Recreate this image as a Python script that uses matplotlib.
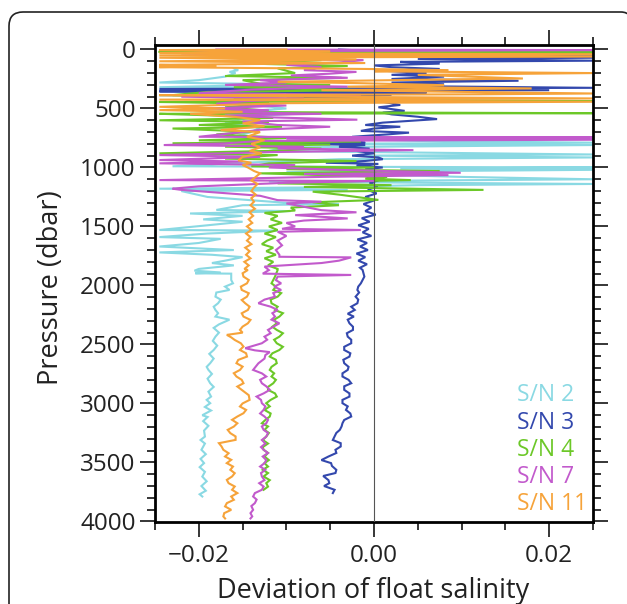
import matplotlib
matplotlib.use("Agg")
import matplotlib.pyplot as plt
from matplotlib.ticker import MultipleLocator
from matplotlib.patches import PathPatch
from matplotlib.path import Path

plt.rcParams['font.family'] = ['Open Sans', 'DejaVu Sans']

# ---------------- data (pressure in dbar, deviation of float salinity) ----------------
labels = ["S/N 2", "S/N 3", "S/N 4", "S/N 7", "S/N 11"]
colors = ["#8ad9e3", "#3348ad", "#6cc828", "#c25acc", "#f6a33a"]

p_sn2 = [160, 175, 190, 200, 230, 260, 280, 290, 300, 320, 335, 345, 360, 390, 400, 430, 460, 500,
         520, 540, 560, 590, 620, 660, 700, 740, 775, 790, 800, 810, 830, 860, 890, 900, 915, 930,
         960, 990, 1000, 1010, 1020, 1040, 1080, 1100, 1120, 1140, 1150, 1170, 1180, 1190, 1200,
         1250, 1300, 1310, 1320, 1360, 1370, 1390, 1410, 1440, 1460, 1490, 1530, 1535, 1560, 1590,
         1605, 1640, 1670, 1700, 1720, 1740, 1760, 1790, 1810, 1830, 1860, 1875, 1890, 1897, 1900,
         1954, 1982, 2010, 2038, 2060, 2095, 2120, 2151, 2180, 2208, 2235, 2264, 2290, 2330, 2360,
         2400, 2434, 2470, 2510, 2547, 2580, 2620, 2659, 2690, 2716, 2750, 2790, 2829, 2860, 2900,
         2942, 2970, 2998, 3030, 3060, 3100, 3115, 3150, 3190, 3230, 3281, 3310, 3340, 3393, 3430,
         3470, 3506, 3540, 3580, 3620, 3660, 3700, 3740, 3770, 3789]
d_sn2 = [-0.0160, -0.0155, -0.0165, -0.0158, -0.0170, -0.0200, -0.0245, -0.0150, -0.0120, -0.0245,
         -0.0030, -0.0245, -0.0080, -0.0245, -0.0100, -0.0190, -0.0150, -0.0100, -0.0140, -0.0080,
         -0.0125, -0.0150, -0.0170, -0.0130, -0.0140, -0.0160, 0.0050, 0.0250, -0.0090, 0.0250,
         -0.0100, -0.0120, 0.0250, -0.0010, 0.0250, -0.0040, -0.0150, -0.0230, 0.0250, 0.0030,
         0.0250, -0.0100, 0.0100, 0.0250, -0.0120, 0.0250, 0.0050, -0.0080, -0.0245, -0.0030,
         -0.0220, -0.0190, -0.0100, -0.0040, -0.0150, -0.0180, -0.0095, -0.0210, -0.0150, -0.0195,
         -0.0150, -0.0190, -0.0245, -0.0110, -0.0190, -0.0245, -0.0175, -0.0200, -0.0245, -0.0160,
         -0.0245, -0.0185, -0.0150, -0.0170, -0.0185, -0.0160, -0.0200, -0.0205, -0.0175, -0.0204,
         -0.0163, -0.0163, -0.0161, -0.0170, -0.0165, -0.0180, -0.0181, -0.0175, -0.0178, -0.0183,
         -0.0181, -0.0178, -0.0181, -0.0165, -0.0177, -0.0183, -0.0177, -0.0181, -0.0184, -0.0179,
         -0.0183, -0.0188, -0.0183, -0.0187, -0.0191, -0.0189, -0.0185, -0.0190, -0.0187, -0.0183,
         -0.0189, -0.0186, -0.0191, -0.0187, -0.0193, -0.0186, -0.0196, -0.0190, -0.0195, -0.0189,
         -0.0194, -0.0193, -0.0198, -0.0193, -0.0197, -0.0192, -0.0198, -0.0194, -0.0199, -0.0193,
         -0.0196, -0.0191, -0.0197, -0.0192, -0.0199, -0.0196]

p_sn3 = [0, 10, 20, 30, 45, 55, 70, 80, 95, 105, 120, 135, 150, 165, 180, 200, 215, 230, 250, 265,
         280, 295, 310, 325, 335, 345, 355, 365, 375, 385, 400, 415, 430, 450, 470, 490, 505, 520,
         535, 550, 570, 590, 605, 620, 640, 655, 670, 690, 705, 720, 740, 760, 775, 790, 800, 810,
         825, 840, 860, 880, 900, 915, 930, 945, 960, 970, 985, 1000, 1015, 1035, 1050, 1070, 1090,
         1110, 1130, 1160, 1190, 1220, 1250, 1280, 1310, 1340, 1370, 1400, 1430, 1460, 1490, 1520,
         1550, 1580, 1610, 1640, 1670, 1700, 1730, 1760, 1790, 1820, 1850, 1869, 1925, 1982, 2010,
         2038, 2060, 2095, 2120, 2151, 2180, 2208, 2240, 2264, 2290, 2321, 2350, 2377, 2405, 2434,
         2460, 2490, 2520, 2547, 2575, 2603, 2630, 2659, 2690, 2716, 2745, 2772, 2800, 2829, 2855,
         2885, 2915, 2942, 2970, 2998, 3025, 3055, 3085, 3111, 3140, 3168, 3195, 3224, 3250, 3281,
         3310, 3337, 3365, 3393, 3420, 3450, 3480, 3506, 3530, 3563, 3590, 3615, 3650, 3676, 3700,
         3732, 3760]
d_sn3 = [-0.0040, -0.0010, -0.0060, -0.0010, 0.0250, 0.0030, 0.0250, 0.0050, 0.0250, 0.0030,
         0.0075, 0.0000, 0.0020, 0.0075, 0.0010, 0.0060, 0.0020, 0.0080, 0.0020, 0.0165,
         0.0020, 0.0080, 0.0030, 0.0250, -0.0245, 0.0200, -0.0245, 0.0060, -0.0100, 0.0020,
         -0.0100, 0.0030, 0.0000, 0.0015, 0.0030, 0.0005, 0.0020, 0.0035, 0.0010, 0.0020,
         0.0050, 0.0072, 0.0040, 0.0010, -0.0010, 0.0030, 0.0000, -0.0015, 0.0040, 0.0015,
         -0.0025, -0.0005, -0.0030, -0.0010, -0.0090, -0.0010, -0.0040, -0.0005, -0.0020, 0.0000,
         -0.0025, 0.0005, 0.0010, -0.0010, -0.0055, 0.0005, -0.0020, 0.0010, -0.0010, 0.0003,
         -0.0015, 0.0002, -0.0008, 0.0005, -0.0005, 0.0004, -0.0007, 0.0003, -0.0010, 0.0000,
         -0.0012, -0.0003, -0.0010, 0.0002, -0.0014, -0.0005, -0.0018, -0.0006, -0.0013, -0.0003,
         -0.0019, -0.0008, -0.0016, -0.0007, -0.0020, -0.0010, -0.0018, -0.0008, -0.0016, -0.0013,
         -0.0011, -0.0015, -0.0018, -0.0019, -0.0017, -0.0021, -0.0018, -0.0019, -0.0026, -0.0022,
         -0.0030, -0.0023, -0.0030, -0.0028, -0.0024, -0.0024, -0.0031, -0.0030, -0.0026, -0.0026,
         -0.0034, -0.0034, -0.0027, -0.0028, -0.0035, -0.0034, -0.0029, -0.0030, -0.0036, -0.0036,
         -0.0029, -0.0026, -0.0034, -0.0034, -0.0028, -0.0028, -0.0036, -0.0036, -0.0030, -0.0032,
         -0.0027, -0.0026, -0.0034, -0.0036, -0.0037, -0.0039, -0.0043, -0.0045, -0.0047, -0.0038,
         -0.0038, -0.0044, -0.0043, -0.0052, -0.0060, -0.0049, -0.0048, -0.0043, -0.0044, -0.0058,
         -0.0052, -0.0051, -0.0057, -0.0045, -0.0047]

p_sn4 = [20, 25, 35, 60, 90, 120, 140, 160, 200, 225, 240, 260, 290, 300, 320, 345, 360, 387, 400,
         420, 437, 445, 460, 490, 514, 530, 540, 545, 560, 580, 600, 615, 640, 655, 670, 697, 720,
         750, 770, 780, 795, 805, 824, 840, 860, 880, 895, 925, 945, 965, 990, 1000, 1015, 1030,
         1050, 1080, 1095, 1107, 1120, 1135, 1150, 1165, 1190, 1205, 1230, 1250, 1275, 1295, 1320,
         1340, 1365, 1385, 1410, 1440, 1470, 1500, 1530, 1560, 1590, 1620, 1650, 1680, 1710, 1740,
         1770, 1800, 1830, 1860, 1869, 1925, 1982, 2010, 2038, 2065, 2095, 2120, 2151, 2180, 2208,
         2235, 2264, 2290, 2321, 2350, 2377, 2405, 2434, 2460, 2490, 2520, 2547, 2575, 2603, 2630,
         2659, 2690, 2716, 2745, 2772, 2800, 2829, 2860, 2885, 2915, 2942, 2970, 2998, 3025, 3055,
         3085, 3111, 3140, 3168, 3195, 3224, 3250, 3281, 3310, 3340, 3370, 3393, 3420, 3450, 3480,
         3506, 3535, 3563, 3590, 3619, 3650, 3676, 3705, 3732]
d_sn4 = [-0.0245, 0.0250, -0.0100, -0.0180, -0.0060, -0.0140, -0.0030, -0.0110, -0.0090, -0.0170,
         -0.0037, -0.0150, -0.0130, -0.0050, -0.0160, -0.0010, -0.0190, -0.0230, -0.0130, -0.0160,
         0.0250, -0.0245, -0.0120, -0.0170, -0.0130, -0.0190, 0.0250, -0.0245, -0.0180, -0.0115,
         -0.0245, -0.0120, -0.0200, -0.0105, -0.0230, -0.0140, -0.0180, -0.0100, -0.0200, -0.0015,
         -0.0230, -0.0050, -0.0170, -0.0060, -0.0120, -0.0245, -0.0110, -0.0170, -0.0020, -0.0120,
         -0.0140, 0.0000, -0.0100, 0.0075, -0.0130, 0.0015, -0.0010, 0.0042, -0.0050, -0.0110,
         0.0020, -0.0080, 0.0125, -0.0070, -0.0040, -0.0020, 0.0005, -0.0070, -0.0040, -0.0095,
         -0.0090, -0.0125, -0.0110, -0.0118, -0.0105, -0.0120, -0.0110, -0.0125, -0.0112, -0.0122,
         -0.0128, -0.0115, -0.0123, -0.0112, -0.0125, -0.0115, -0.0121, -0.0110, -0.0110, -0.0113,
         -0.0117, -0.0112, -0.0115, -0.0106, -0.0110, -0.0118, -0.0117, -0.0110, -0.0113, -0.0104,
         -0.0108, -0.0114, -0.0111, -0.0116, -0.0111, -0.0104, -0.0108, -0.0114, -0.0111, -0.0104,
         -0.0108, -0.0116, -0.0119, -0.0112, -0.0111, -0.0117, -0.0119, -0.0114, -0.0117, -0.0112,
         -0.0115, -0.0121, -0.0121, -0.0113, -0.0111, -0.0118, -0.0123, -0.0119, -0.0125, -0.0118,
         -0.0119, -0.0124, -0.0128, -0.0121, -0.0125, -0.0120, -0.0123, -0.0127, -0.0121, -0.0127,
         -0.0126, -0.0121, -0.0125, -0.0120, -0.0125, -0.0121, -0.0127, -0.0121, -0.0126, -0.0119,
         -0.0123, -0.0121, -0.0126]

p_sn7 = [0, 5, 15, 34, 50, 80, 90, 110, 130, 150, 175, 190, 205, 220, 240, 260, 280, 300, 315, 340,
         370, 385, 400, 415, 440, 460, 475, 500, 515, 530, 545, 560, 575, 595, 610, 640, 655, 680,
         700, 740, 745, 755, 765, 775, 796, 810, 824, 840, 853, 870, 895, 910, 937, 950, 965, 980,
         1000, 1020, 1045, 1055, 1065, 1080, 1107, 1115, 1130, 1160, 1180, 1190, 1240, 1277, 1290,
         1305, 1333, 1362, 1380, 1404, 1432, 1450, 1470, 1500, 1520, 1530, 1545, 1580, 1620, 1660,
         1700, 1740, 1757, 1762, 1790, 1810, 1840, 1870, 1900, 1911, 1925, 1955, 1982, 2010, 2038,
         2065, 2095, 2120, 2151, 2180, 2208, 2235, 2264, 2290, 2321, 2350, 2377, 2405, 2434, 2460,
         2490, 2532, 2550, 2565, 2590, 2620, 2660, 2716, 2745, 2772, 2800, 2829, 2855, 2885, 2915,
         2942, 2970, 2998, 3025, 3055, 3085, 3111, 3140, 3168, 3195, 3224, 3250, 3281, 3310, 3340,
         3370, 3393, 3420, 3450, 3480, 3506, 3535, 3563, 3590, 3619, 3650, 3676, 3705, 3732, 3760,
         3789, 3815, 3845, 3870, 3902, 3930, 3958, 3975]
d_sn7 = [-0.0180, 0.0250, -0.0160, -0.0220, -0.0100, -0.0105, -0.0012, -0.0040, -0.0100, -0.0060,
         -0.0080, -0.0020, -0.0050, -0.0095, -0.0030, -0.0130, -0.0100, -0.0170, -0.0030, -0.0140,
         -0.0200, -0.0015, -0.0220, -0.0080, -0.0150, -0.0180, -0.0100, -0.0190, -0.0120, -0.0175,
         -0.0060, -0.0170, -0.0120, -0.0019, -0.0150, -0.0110, -0.0050, -0.0130, -0.0150, -0.0200,
         0.0250, -0.0100, 0.0250, -0.0130, -0.0170, -0.0240, -0.0080, -0.0110, 0.0045, -0.0120,
         -0.0245, -0.0130, -0.0245, -0.0150, -0.0245, -0.0090, -0.0120, -0.0040, 0.0099, -0.0080,
         0.0085, -0.0060, -0.0245, 0.0000, -0.0100, -0.0200, -0.0230, -0.0220, -0.0130, -0.0110,
         -0.0060, -0.0100, -0.0080, -0.0060, -0.0020, -0.0090, -0.0030, -0.0080, -0.0100, -0.0090,
         -0.0105, -0.0015, -0.0110, -0.0100, -0.0110, -0.0105, -0.0112, -0.0108, -0.0108, -0.0026,
         -0.0040, -0.0060, -0.0125, -0.0120, -0.0127, -0.0026, -0.0110, -0.0112, -0.0106, -0.0114,
         -0.0106, -0.0115, -0.0113, -0.0125, -0.0132, -0.0118, -0.0110, -0.0116, -0.0113, -0.0117,
         -0.0108, -0.0115, -0.0121, -0.0118, -0.0125, -0.0122, -0.0128, -0.0147, -0.0136, -0.0119,
         -0.0124, -0.0125, -0.0132, -0.0138, -0.0128, -0.0123, -0.0130, -0.0128, -0.0123, -0.0119,
         -0.0126, -0.0134, -0.0129, -0.0128, -0.0124, -0.0126, -0.0130, -0.0125, -0.0121, -0.0123,
         -0.0128, -0.0126, -0.0121, -0.0123, -0.0128, -0.0124, -0.0129, -0.0126, -0.0121, -0.0127,
         -0.0123, -0.0125, -0.0130, -0.0124, -0.0129, -0.0128, -0.0125, -0.0131, -0.0126, -0.0128,
         -0.0136, -0.0138, -0.0134, -0.0136, -0.0140, -0.0138, -0.0141, -0.0139, -0.0141]

p_sn11 = [0, 5, 15, 30, 40, 50, 60, 70, 85, 100, 115, 130, 140, 150, 165, 175, 185, 200, 215, 246,
          255, 274, 285, 302, 315, 330, 345, 373, 380, 387, 400, 415, 425, 443, 455, 486, 500, 514,
          528, 545, 570, 598, 627, 650, 683, 700, 740, 768, 800, 830, 860, 880, 910, 940, 960, 980,
          1000, 1030, 1050, 1080, 1110, 1140, 1170, 1200, 1230, 1260, 1290, 1320, 1350, 1380, 1410,
          1440, 1470, 1500, 1530, 1560, 1590, 1620, 1650, 1680, 1710, 1740, 1770, 1800, 1830, 1860,
          1869, 1897, 1925, 1954, 1982, 2010, 2038, 2066, 2095, 2123, 2151, 2180, 2208, 2236, 2264,
          2292, 2321, 2349, 2377, 2400, 2419, 2440, 2462, 2490, 2518, 2547, 2575, 2603, 2631, 2659,
          2688, 2716, 2744, 2772, 2800, 2829, 2857, 2885, 2930, 2970, 3000, 3026, 3055, 3083, 3111,
          3139, 3168, 3196, 3224, 3252, 3280, 3309, 3337, 3365, 3393, 3422, 3450, 3478, 3506, 3535,
          3563, 3591, 3619, 3648, 3676, 3704, 3732, 3760, 3789, 3817, 3845, 3873, 3902, 3930, 3958,
          3975]
d_sn11 = [-0.0100, -0.0245, -0.0050, -0.0245, 0.0250, -0.0245, 0.0250, -0.0245, -0.0020, -0.0245,
          -0.0010, -0.0245, -0.0180, -0.0245, -0.0010, 0.0085, 0.0000, 0.0250, 0.0050, 0.0170,
          0.0070, -0.0110, -0.0020, 0.0080, -0.0030, 0.0180, -0.0060, 0.0250, 0.0120, -0.0245,
          -0.0070, 0.0250, -0.0245, 0.0250, -0.0100, -0.0245, -0.0170, -0.0245, -0.0150, -0.0210,
          -0.0160, -0.0130, -0.0150, -0.0125, -0.0175, -0.0130, -0.0145, -0.0125, -0.0140, -0.0130,
          -0.0142, -0.0128, -0.0150, -0.0155, -0.0140, -0.0150, -0.0144, -0.0137, -0.0130, -0.0135,
          -0.0140, -0.0133, -0.0137, -0.0140, -0.0135, -0.0140, -0.0137, -0.0141, -0.0136, -0.0142,
          -0.0138, -0.0143, -0.0139, -0.0145, -0.0140, -0.0146, -0.0141, -0.0145, -0.0140, -0.0147,
          -0.0142, -0.0146, -0.0141, -0.0148, -0.0143, -0.0148, -0.0144, -0.0150, -0.0149, -0.0143,
          -0.0145, -0.0152, -0.0151, -0.0143, -0.0145, -0.0151, -0.0147, -0.0142, -0.0144, -0.0151,
          -0.0149, -0.0141, -0.0144, -0.0150, -0.0153, -0.0150, -0.0168, -0.0163, -0.0159, -0.0152,
          -0.0149, -0.0153, -0.0146, -0.0145, -0.0155, -0.0157, -0.0150, -0.0153, -0.0160, -0.0157,
          -0.0151, -0.0149, -0.0156, -0.0151, -0.0143, -0.0142, -0.0150, -0.0153, -0.0146, -0.0149,
          -0.0156, -0.0162, -0.0156, -0.0160, -0.0167, -0.0164, -0.0158, -0.0158, -0.0177, -0.0174,
          -0.0172, -0.0166, -0.0170, -0.0163, -0.0168, -0.0161, -0.0164, -0.0159, -0.0162, -0.0168,
          -0.0166, -0.0159, -0.0162, -0.0156, -0.0163, -0.0160, -0.0168, -0.0170, -0.0163, -0.0171,
          -0.0172, -0.0170]

pressures = [p_sn2, p_sn3, p_sn4, p_sn7, p_sn11]
deviations = [d_sn2, d_sn3, d_sn4, d_sn7, d_sn11]

xticks = [-0.02, 0.00, 0.02]
xticklabels = ["\u22120.02", "0.00", "0.02"]
yticks = [0, 500, 1000, 1500, 2000, 2500, 3000, 3500, 4000]

# ---------------- figure ----------------
W, H = 627, 604
fig = plt.figure(figsize=(W / 100, H / 100), dpi=100)
fig.patch.set_facecolor("white")

# outer frame: left edge, rounded top-left corner, top edge, slight bend at far right
def fx(px):
    return px / W

def fy(py):
    return 1 - py / H

verts = [(fx(9), fy(640)), (fx(9), fy(26)), (fx(9), fy(12)), (fx(23), fy(12)),
         (fx(621), fy(12)), (fx(627), fy(12)), (fx(630), fy(16))]
codes = [Path.MOVETO, Path.LINETO, Path.CURVE3, Path.CURVE3,
         Path.LINETO, Path.CURVE3, Path.CURVE3]
frame = PathPatch(Path(verts, codes), transform=fig.transFigure, facecolor="none",
                  edgecolor="#222222", linewidth=1.2, zorder=0)
fig.patches.append(frame)

ax = fig.add_axes([155 / W, 1 - 522 / H, (593 - 155) / W, (522 - 45) / H])

for p, d, c in zip(pressures, deviations, colors):
    ax.plot(d, p, color=c, lw=1.5, solid_joinstyle="miter")

ax.axvline(0, color="#555555", lw=0.8, zorder=10)

ax.set_xlim(-0.025, 0.025)
ax.set_ylim(4005, -38)

ax.set_xticks(xticks)
ax.set_xticklabels(xticklabels)
ax.xaxis.set_minor_locator(MultipleLocator(0.005))
ax.set_yticks(yticks)
ax.yaxis.set_minor_locator(MultipleLocator(100))

for s in ax.spines.values():
    s.set_linewidth(2.0)
    s.set_color("black")

ax.tick_params(which="both", direction="out", top=True, right=True,
               labeltop=False, labelright=False, width=1.1, color="black")
ax.tick_params(which="major", length=11)
ax.tick_params(which="minor", length=5.5)
ax.tick_params(axis="x", which="major", pad=5, labelsize=17.5, labelcolor="#222222")
ax.tick_params(axis="y", which="major", pad=3, labelsize=17.5, labelcolor="#222222")

# legend as coloured text
leg_y = [0.266, 0.2075, 0.151, 0.094, 0.037]
for lab, c, yy in zip(labels, colors, leg_y):
    ax.text(0.826, yy, lab, color=c, fontsize=16.5, transform=ax.transAxes,
            ha="left", va="center", zorder=12)

fig.text(373 / W, 1 - 598 / H, "Deviation of float salinity", ha="center",
         va="baseline", fontsize=19.5, color="#222222")
fig.text(51 / W, 1 - 288 / H, "Pressure (dbar)", ha="center", va="center",
         rotation=90, fontsize=19.5, color="#222222")

fig.savefig("out.png", dpi=100, facecolor="white")
